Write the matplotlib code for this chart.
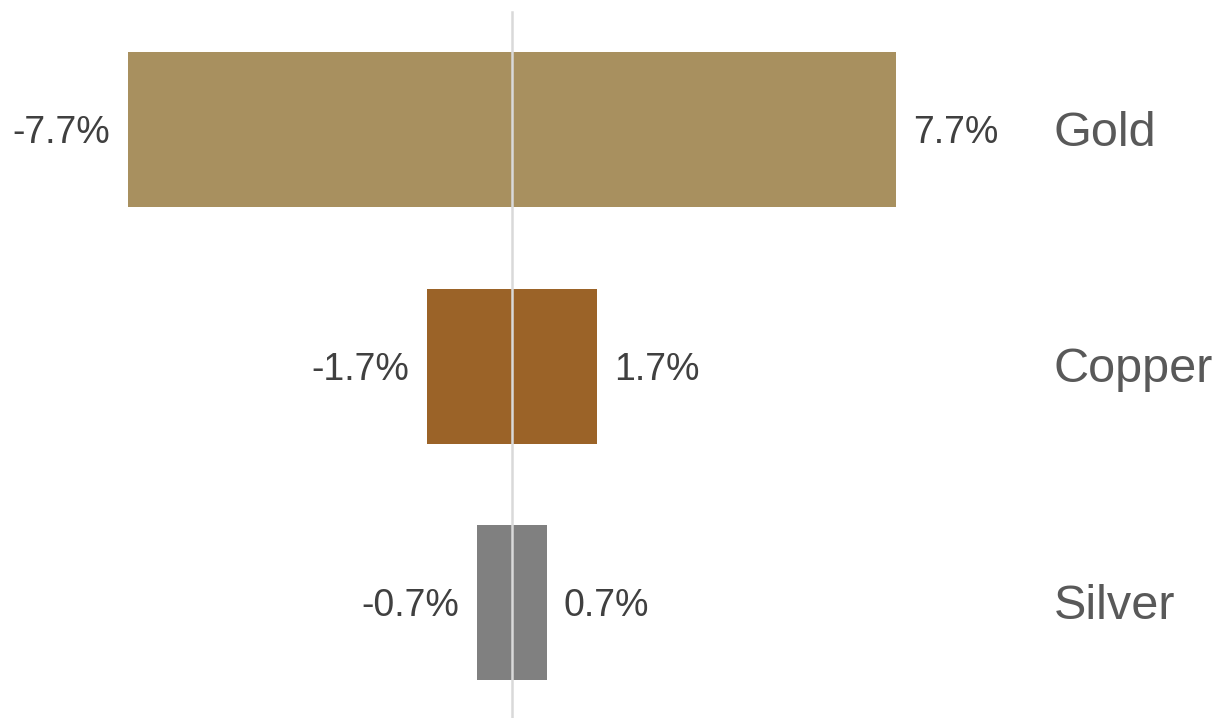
import matplotlib.pyplot as plt

categories = ["Gold", "Copper", "Silver"]
changes = [7.7, 1.7, 0.7]
colors = ["#A8905F", "#9B6328", "#808080"]

plt.rcParams["font.family"] = ["Liberation Sans", "DejaVu Sans"]

fig = plt.figure(figsize=(12.16, 7.18), dpi=100)
ax = fig.add_axes([0, 0, 1, 1])

px = 49.9  # pixels per percentage point
ax.set_xlim(-512 / px, (1216 - 512) / px)
ax.set_ylim(2.488, -0.548)

positions = list(range(len(categories)))
for pos, name, value, color in zip(positions, categories, changes, colors):
    ax.barh(pos, value, height=0.655, left=0, color=color)
    ax.barh(pos, -value, height=0.655, left=0, color=color)
    ax.text(-value - 0.36, pos + 0.015, f"-{value}%", ha="right", va="center",
            fontsize=27, color="#404040")
    ax.text(value + 0.34, pos + 0.015, f"{value}%", ha="left", va="center",
            fontsize=27, color="#404040")
    ax.text(10.86, pos + 0.015, name, ha="left", va="center", fontsize=35, color="#595959")

ax.axvline(0, ymin=0, ymax=(718 - 12) / 718, color="#D9D9D9", linewidth=1.8)
ax.axis("off")

fig.savefig("out.png", dpi=100)
